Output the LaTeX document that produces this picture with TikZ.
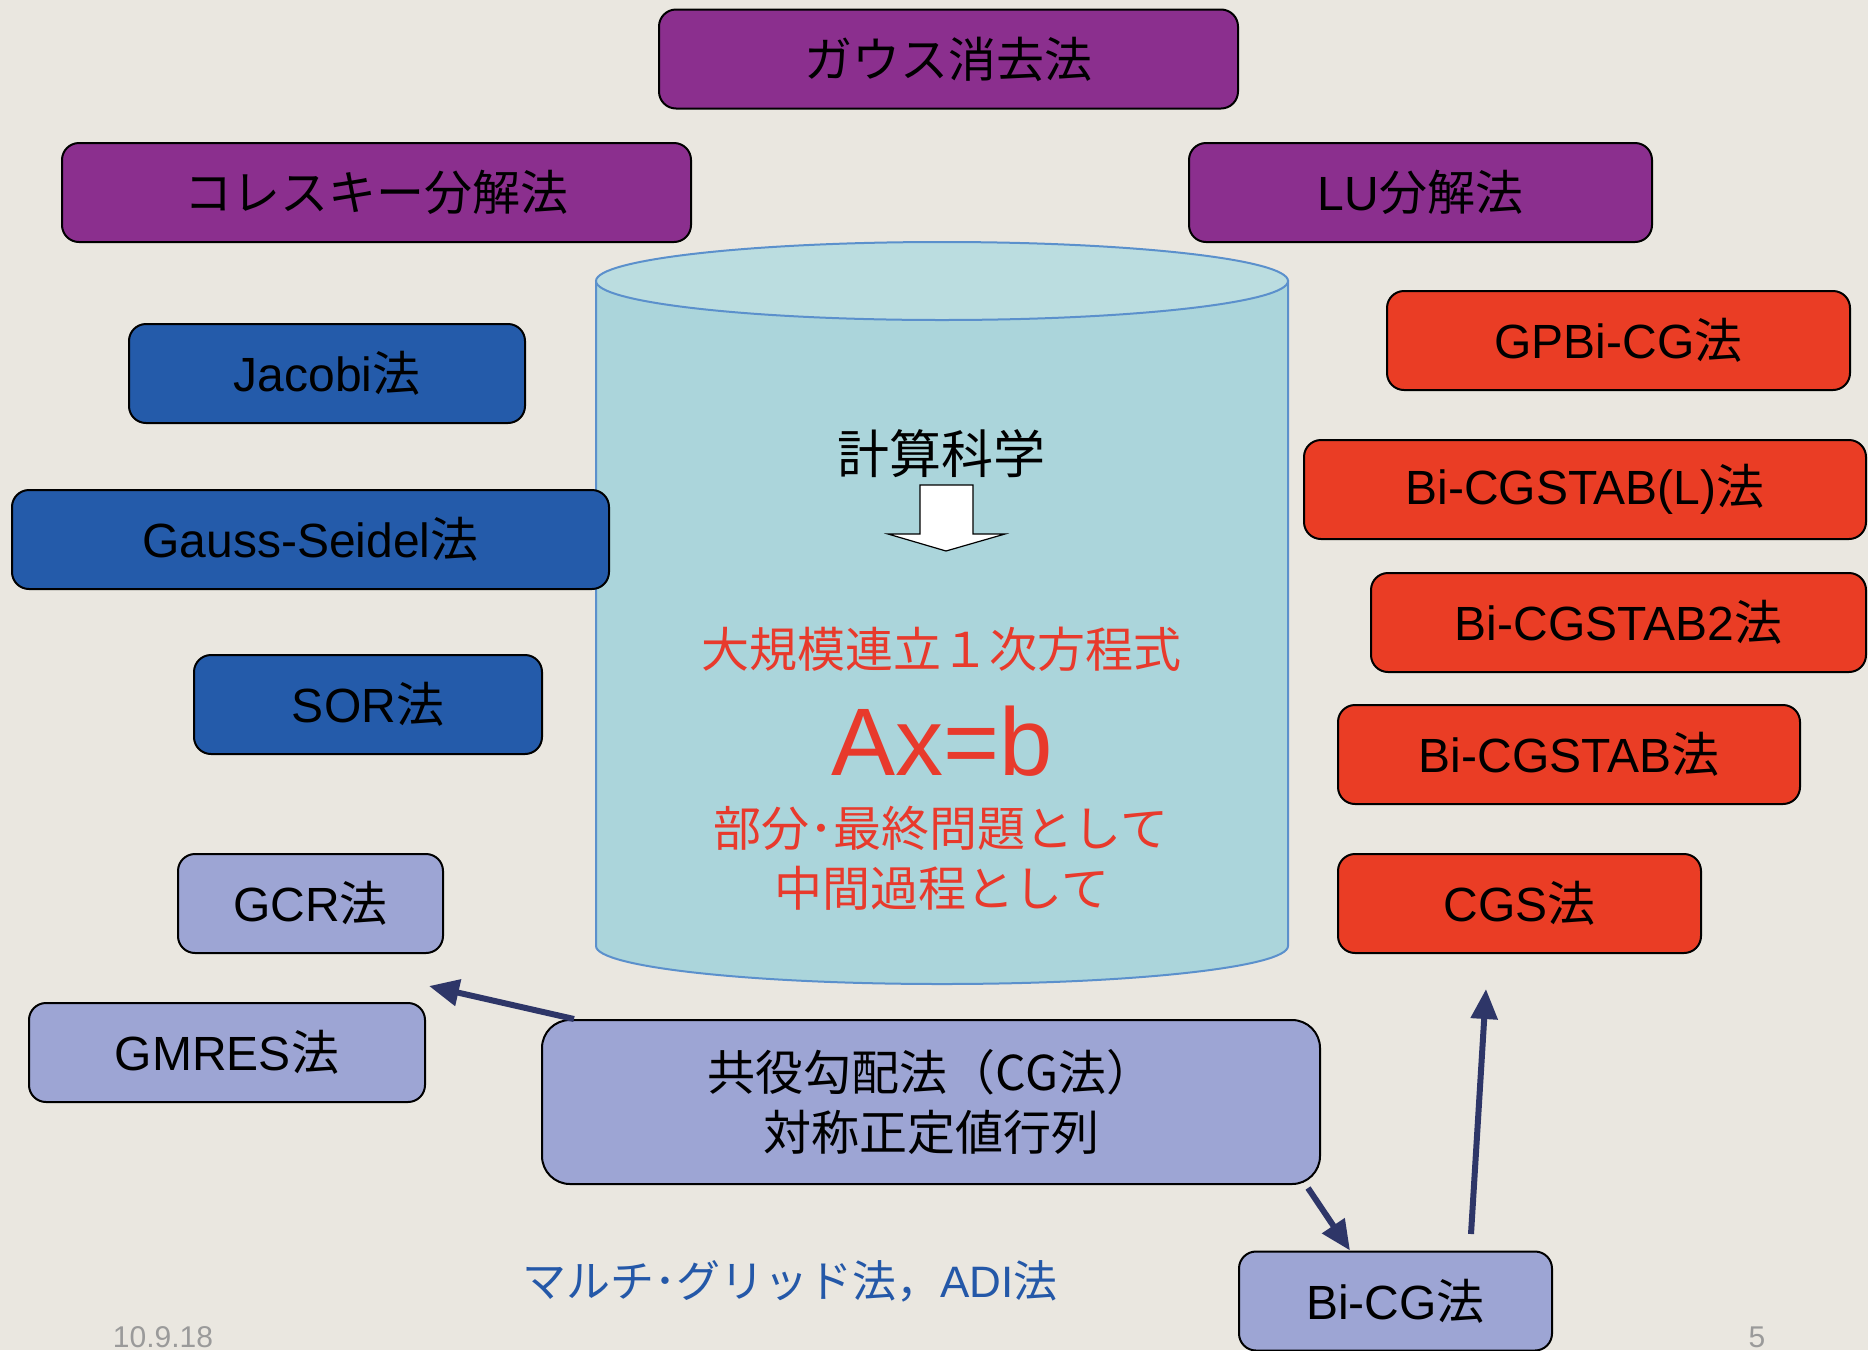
\documentclass[tikz,border=0pt]{standalone}
\usepackage{fontspec}
\setmainfont{Liberation Sans}
\newfontfamily\cjk{Noto Sans CJK JP}
\newcommand\jtxt[1]{{\cjk #1}}
\usetikzlibrary{arrows.meta,calc}
\definecolor{bgc}{HTML}{EAE7E0}
\definecolor{purp}{HTML}{8B2F8E}
\definecolor{blu}{HTML}{245BAA}
\definecolor{lav}{HTML}{9DA5D4}
\definecolor{redb}{HTML}{EA3D25}
\definecolor{cylc}{HTML}{ABD5DB}
\definecolor{cyltop}{HTML}{BBDDE0}
\definecolor{cylline}{HTML}{5B90CC}
\definecolor{arrc}{HTML}{2E3668}
\definecolor{redt}{HTML}{E83A2C}
\definecolor{bluet}{HTML}{2458A8}
\definecolor{grayt}{HTML}{9A9A9A}
\begin{document}
\begin{tikzpicture}[x=0.5pt,y=-0.5pt,
  box/.style={draw=black, line width=1pt, rounded corners=8.5pt, inner sep=0pt,
    font=\fontsize{24}{29}\selectfont, text=black, minimum height=49.5pt, align=center},
  conn/.style={draw=arrc, line width=3pt, -{Triangle[length=15pt,width=13pt]}},
  ctext/.style={inner sep=0pt, align=center}]
\fill[bgc] (0,0) rectangle (1868,1350);
\useasboundingbox (0,0) rectangle (1868,1350);

% cylinder
\path[fill=cylc, draw=cylline, line width=1pt]
  (596,281) -- (596,946) arc[start angle=180, end angle=360, x radius=173pt, y radius=19pt]
  -- (1288,281) -- cycle;
\draw[fill=cyltop, draw=cylline, line width=1pt] (942,281) ellipse [x radius=173pt, y radius=19.5pt];

\node[ctext, font=\cjk\fontsize{26}{30}\selectfont] (keisan) at (941,454) {計算科学};
\draw[fill=white, draw=black, line width=0.6pt] (920,485) -- (973,485) -- (973,534) -- (1005,534)
  -- (946,551) -- (888,534) -- (920,534) -- cycle;
\node[ctext, text=redt, font=\cjk\fontsize{24}{28}\selectfont] (daikibo) at (941,649) {大規模連立１次方程式};
\node[ctext, text=redt, font=\fontsize{48}{52}\selectfont] (axb) at (942,741) {Ax=b};
\node[ctext, text=redt, font=\cjk\fontsize{24}{28}\selectfont] (bubun) at (941,828) {部分･最終問題として};
\node[ctext, text=redt, font=\cjk\fontsize{24}{28}\selectfont] (chukan) at (942,888) {中間過程として};

% purple
\node[box, fill=purp, minimum width=289.5pt] (gauss) at (948.5,59) {\jtxt{ガウス消去法}};
\node[box, fill=purp, minimum width=314.5pt] (chol) at (376.5,192.5) {\jtxt{コレスキー分解法}};
\node[box, fill=purp, minimum width=231.5pt] (lu) at (1420.5,192.5) {LU\jtxt{分解法}};

% blue
\node[box, fill=blu, minimum width=198pt] (jacobi) at (327,373.5) {Jacobi\jtxt{法}};
\node[box, fill=blu, minimum width=298.5pt] (gs) at (310.5,539.5) {Gauss-Seidel\jtxt{法}};
\node[box, fill=blu, minimum width=174pt] (sor) at (368,704.5) {SOR\jtxt{法}};

% lavender
\node[box, fill=lav, minimum width=132.5pt] (gcr) at (310.5,903.5) {GCR\jtxt{法}};
\node[box, fill=lav, minimum width=198pt] (gmres) at (227,1052.5) {GMRES\jtxt{法}};
\node[box, fill=lav, minimum width=389pt, minimum height=82pt, rounded corners=14pt,
  font=\cjk\fontsize{24}{30}\selectfont] (cg) at (931,1102) {共役勾配法（CG法）\\対称正定値行列};
\node[box, fill=lav, minimum width=156.5pt] (bicg) at (1395.5,1301) {Bi-CG\jtxt{法}};

% red
\node[box, fill=redb, minimum width=231.5pt] (gpbicg) at (1618.5,340.5) {GPBi-CG\jtxt{法}};
\node[box, fill=redb, minimum width=281pt] (bicgstabl) at (1585,489.5) {Bi-CGSTAB(L)\jtxt{法}};
\node[box, fill=redb, minimum width=247.5pt] (bicgstab2) at (1618.5,622.5) {Bi-CGSTAB2\jtxt{法}};
\node[box, fill=redb, minimum width=231pt] (bicgstab) at (1569,754.5) {Bi-CGSTAB\jtxt{法}};
\node[box, fill=redb, minimum width=181.5pt] (cgs) at (1519.5,903.5) {CGS\jtxt{法}};

% texts
\node[ctext, text=bluet, font=\fontsize{22}{26}\selectfont] (multi) at (790,1281) {\jtxt{マルチ･グリッド法，}ADI\jtxt{法}};
\node[ctext, text=grayt, font=\fontsize{15}{18}\selectfont] (date) at (163,1337) {10.9.18};
\node[ctext, text=grayt, font=\fontsize{15}{18}\selectfont] (page) at (1757,1337) {5};

% connectors
\coordinate (a1e) at (429,986);
\coordinate (a3s) at (1471,1234);
\coordinate (a3e) at (1486,989);
\draw[conn] ($(cg.north west)+(33,0)$) -- (a1e);
\draw[conn] ($(cg.south east)+(-13,3)$) -- ($(bicg.north west)+(112,0)$);
\draw[conn] (a3s) -- (a3e);
\end{tikzpicture}
\end{document}
